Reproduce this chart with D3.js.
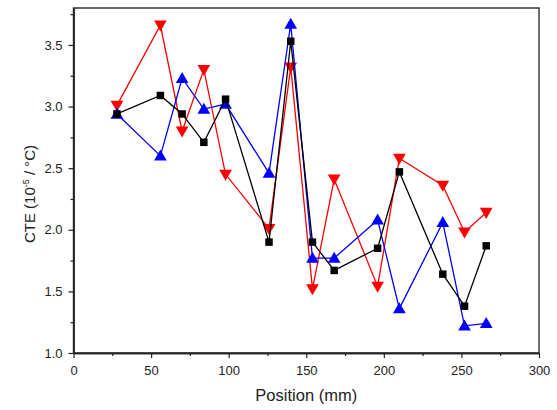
<!DOCTYPE html>
<html>
<head>
<meta charset="utf-8">
<script src="https://cdn.jsdelivr.net/npm/d3@7"></script>
<style>
    body { margin: 0; background: #fff; }
    text { font-family: "Liberation Sans", Arial, sans-serif; }
</style>
</head>
<body>
<div id="chart"></div>
<script>
const positions = [28, 56, 70, 84, 98, 126, 140, 154, 168, 196, 210, 238, 252, 266];
const blackSeries = [2.94, 3.09, 2.94, 2.71, 3.06, 1.90, 3.53, 1.90, 1.67, 1.85, 2.47, 1.64, 1.38, 1.87];
const blueSeries = [2.94, 2.60, 3.23, 2.98, 3.02, 2.46, 3.67, 1.77, 1.77, 2.08, 1.36, 2.06, 1.22, 1.24];
const redSeries = [3.01, 3.66, 2.80, 3.30, 2.45, 2.01, 3.32, 1.52, 2.41, 1.54, 2.58, 2.36, 1.98, 2.14];
const xTicks = [0, 50, 100, 150, 200, 250, 300];
const yTicks = [1.0, 1.5, 2.0, 2.5, 3.0, 3.5];

const width = 557, height = 410;
const margin = { left: 73.5, right: 18, top: 8, bottom: 57 };

const svg = d3.select('#chart')
    .append('svg')
    .attr('width', width)
    .attr('height', height);

const x = d3.scaleLinear().domain([0, 300]).range([margin.left, width - margin.right]);
const y = d3.scaleLinear().domain([1.0, 3.8]).range([height - margin.bottom, margin.top]);

// Plot frame
const framePath = d3.path();
framePath.rect(x(0), y(3.8), x(300) - x(0), y(1.0) - y(3.8));
svg.append('path')
    .attr('d', framePath.toString())
    .attr('fill', 'none')
    .attr('stroke', '#333')
    .attr('stroke-width', 1.4);

// Axes: major + minor ticks, outward
const xAxis = svg.append('g').attr('transform', `translate(0,${y(1.0)})`);
xAxis.call(d3.axisBottom(x).tickValues(d3.range(25, 300, 50)).tickSize(3).tickSizeOuter(0).tickFormat(''));
xAxis.call(g => g.append('g').call(d3.axisBottom(x).tickValues(xTicks).tickSize(5).tickSizeOuter(0).tickFormat(d3.format('d'))));

const yAxis = svg.append('g').attr('transform', `translate(${x(0)},0)`);
yAxis.call(d3.axisLeft(y).tickValues(d3.range(1.25, 3.8, 0.5)).tickSize(3).tickSizeOuter(0).tickFormat(''));
yAxis.call(g => g.append('g').call(d3.axisLeft(y).tickValues(yTicks).tickSize(5).tickSizeOuter(0).tickFormat(d3.format('.1f'))));

svg.selectAll('.domain').attr('stroke', '#222').attr('stroke-width', 1.4);
svg.selectAll('.tick line').attr('stroke', '#222').attr('stroke-width', 1.2);
svg.selectAll('.tick text')
    .attr('font-size', 13)
    .attr('fill', '#222')
    .style('font-family', '"Liberation Sans", Arial, sans-serif');
xAxis.selectAll('.tick text').attr('dy', '1.05em');
yAxis.selectAll('.tick text').attr('x', -11);

// Axis titles
svg.append('text')
    .attr('x', (x(0) + x(300)) / 2)
    .attr('y', 401)
    .attr('text-anchor', 'middle')
    .attr('font-size', 16.5)
    .attr('fill', '#222')
    .text('Position (mm)');

const yTitle = svg.append('text')
    .attr('transform', `translate(35,194) rotate(-90)`)
    .attr('text-anchor', 'middle')
    .attr('font-size', 15)
    .attr('fill', '#222');
yTitle.append('tspan').text('CTE (10');
yTitle.append('tspan').attr('dy', -6).attr('font-size', 9).text('-5');
yTitle.append('tspan').attr('dy', 6).text(' / °C)');

// Series
const series = [
    { values: redSeries, color: '#ff0000', symbol: 'down' },
    { values: blueSeries, color: '#0000ff', symbol: 'up' },
    { values: blackSeries, color: '#000000', symbol: 'square' }
];

const line = d3.line().x(d => x(d[0])).y(d => y(d[1]));
const triUp = d3.symbol().type(d3.symbolTriangle).size(70);

series.forEach(s => {
    const pts = positions.map((p, i) => [p, s.values[i]]);
    svg.append('path')
        .datum(pts)
        .attr('d', line)
        .attr('fill', 'none')
        .attr('stroke', s.color)
        .attr('stroke-width', 1.3);

    const marks = svg.append('g').selectAll('path')
        .data(pts)
        .enter().append('path')
        .attr('fill', s.color);

    if (s.symbol === 'square') {
        marks.attr('d', d3.symbol().type(d3.symbolSquare).size(56))
            .attr('transform', d => `translate(${x(d[0])},${y(d[1])})`);
    } else if (s.symbol === 'up') {
        marks.attr('d', triUp)
            .attr('transform', d => `translate(${x(d[0])},${y(d[1]) + 1})`);
    } else {
        marks.attr('d', triUp)
            .attr('transform', d => `translate(${x(d[0])},${y(d[1]) - 1}) rotate(180)`);
    }
});
</script>
</body>
</html>
